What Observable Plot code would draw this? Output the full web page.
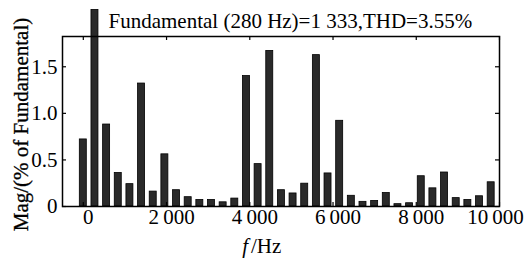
<!DOCTYPE html>
<html>
<head>
<meta charset="utf-8">
<script src="https://cdn.jsdelivr.net/npm/d3@7"></script>
<script src="https://cdn.jsdelivr.net/npm/@observablehq/plot@0.6"></script>
<style>
  html, body { margin: 0; padding: 0; background: #fff; }
</style>
</head>
<body>
<div id="chart"></div>
<script>
// Harmonic frequencies (Hz) and magnitudes (% of fundamental).
// The fundamental bar (280 Hz) is clipped in the original; its drawn height is kept.
const freqs = [0, 280, 560, 840, 1120, 1400, 1680, 1960, 2240, 2520, 2800, 3080,
  3360, 3640, 3920, 4200, 4480, 4760, 5040, 5320, 5600, 5880, 6160, 6440,
  6720, 7000, 7280, 7560, 7840, 8120, 8400, 8680, 8960, 9240, 9520, 9800];
const mags = [0.72, 2.11, 0.88, 0.36, 0.24, 1.32, 0.16, 0.56, 0.175, 0.10, 0.07, 0.07,
  0.045, 0.085, 1.40, 0.455, 1.67, 0.175, 0.14, 0.245, 1.625, 0.355, 0.92, 0.115,
  0.05, 0.06, 0.145, 0.025, 0.035, 0.325, 0.195, 0.365, 0.09, 0.07, 0.11, 0.26];

const xTicks = [0, 2000, 4000, 6000, 8000, 10000];
const xTickLabels = ["0", "2\u2009000", "4\u2009000", "6\u2009000", "8\u2009000", "10\u2009000"];
const yTicks = [0, 0.5, 1.0, 1.5];
const yTickLabels = ["0", "0.5", "1.0", "1.5"];
const titleText = "Fundamental (280 Hz)=1 333,THD=3.55%";
const yLabel = "Mag/(% of Fundamental)";

const data = freqs.map((f, i) => ({f, mag: mags[i]}));

const xDomain = [-500, 10000];
const yDomain = [0, 1.825];
const W = 526, H = 262;
const mL = 62, mR = 27, mT = 36, mB = 56;
const halfBar = 84; // Hz, half bar width
const tickPx = 4;
const tx = tickPx * (xDomain[1] - xDomain[0]) / (W - mL - mR);
const ty = tickPx * (yDomain[1] - yDomain[0]) / (H - mT - mB);

const font = "Liberation Serif";
const fs = 21;
const xFmt = d => xTickLabels[xTicks.indexOf(d)];

const chart = Plot.plot({
  width: W,
  height: H,
  marginLeft: mL,
  marginRight: mR,
  marginTop: mT,
  marginBottom: mB,
  style: {fontFamily: font, fontSize: fs + "px", background: "#fff", color: "#000"},
  x: {domain: xDomain},
  y: {domain: yDomain},
  marks: [
    Plot.rectY(data, {
      x1: d => d.f - halfBar,
      x2: d => d.f + halfBar,
      y1: 0,
      y2: "mag",
      fill: "#2a2a2a",
      stroke: "#000",
      strokeWidth: 0.8
    }),
    Plot.frame({stroke: "#000", strokeWidth: 1.5}),
    // inward ticks
    Plot.ruleX(xTicks, {y1: yDomain[1], y2: yDomain[1] - ty, stroke: "#000", strokeWidth: 1.2}),
    Plot.ruleX(xTicks, {y1: 0, y2: ty, stroke: "#000", strokeWidth: 1.2}),
    Plot.ruleY(yTicks, {x1: xDomain[0], x2: xDomain[0] + tx, stroke: "#000", strokeWidth: 1.2}),
    Plot.ruleY(yTicks, {x1: xDomain[1], x2: xDomain[1] - tx, stroke: "#000", strokeWidth: 1.2}),
    Plot.axisX({
      ticks: xTicks.slice(0, -1), tickSize: 0, tickPadding: 3, label: null, dx: 5,
      tickFormat: xFmt, fontSize: fs, fontFamily: font
    }),
    Plot.axisX({
      ticks: xTicks.slice(-1), tickSize: 0, tickPadding: 3, label: null, dx: -4,
      tickFormat: xFmt, fontSize: fs, fontFamily: font
    }),
    Plot.axisY({
      ticks: yTicks, tickSize: 0, tickPadding: 5, label: null,
      tickFormat: d => yTickLabels[yTicks.indexOf(d)], fontSize: fs, fontFamily: font
    }),
    Plot.text([titleText], {
      frameAnchor: "top-left", textAnchor: "start", lineAnchor: "middle", dx: 46, dy: -15,
      fontSize: fs, fontFamily: font, fill: "#000"
    }),
    Plot.text([yLabel], {
      frameAnchor: "left", textAnchor: "middle", dx: -41, dy: 3, rotate: -90,
      fontSize: fs, fontFamily: font, fill: "#000", stroke: "#000", strokeWidth: 0.3
    }),
    Plot.text(["f"], {
      frameAnchor: "bottom", textAnchor: "end", lineAnchor: "middle", dx: -33, dy: 40,
      fontStyle: "italic", fontSize: fs, fontFamily: font, fill: "#000"
    }),
    Plot.text(["/Hz"], {
      frameAnchor: "bottom", textAnchor: "start", lineAnchor: "middle", dx: -30, dy: 40,
      fontSize: fs, fontFamily: font, fill: "#000"
    })
  ]
});

document.getElementById("chart").appendChild(chart);
</script>
</body>
</html>
